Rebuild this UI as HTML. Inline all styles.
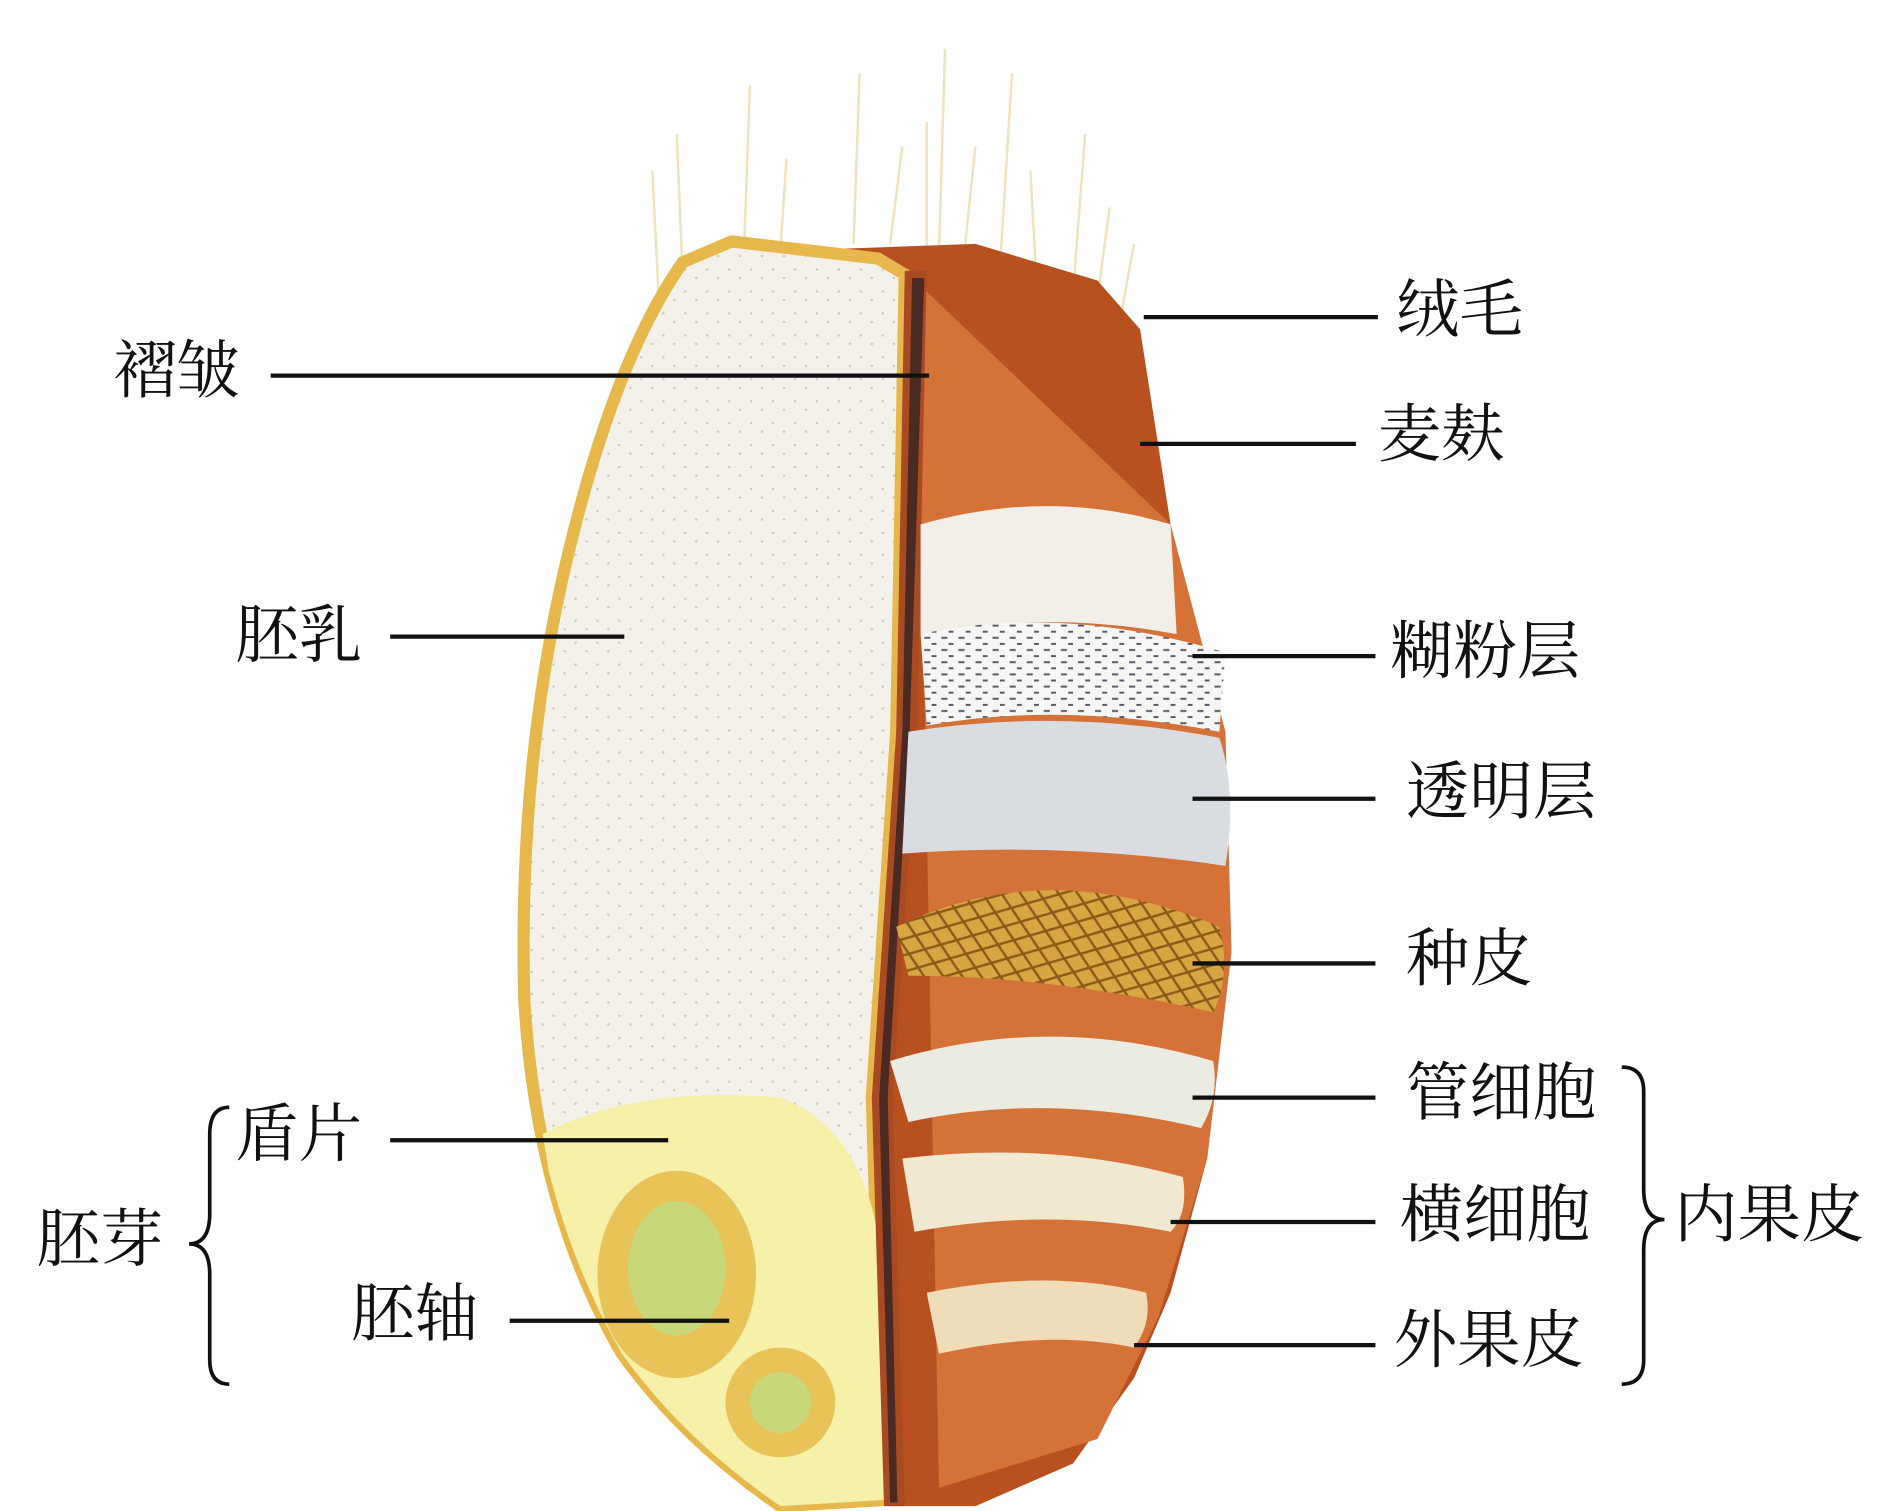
<!DOCTYPE html>
<html><head><meta charset="utf-8"><style>
html,body{margin:0;padding:0;background:#fff;}
svg{display:block;}
text{font-family:"Liberation Serif","Noto Serif CJK SC","Noto Sans CJK SC",serif;font-size:52px;fill:#111;dominant-baseline:middle;}
</style></head><body>
<svg width="1890" height="1511" viewBox="0 0 1550 1239" preserveAspectRatio="none">
<defs>
<pattern id="mesh" width="22" height="16" patternUnits="userSpaceOnUse" patternTransform="rotate(20)">
<rect width="22" height="16" fill="#d8a640"/><path d="M0 0L22 16M22 0L0 16" stroke="#8a5a18" stroke-width="2"/></pattern>
<pattern id="dots" width="14" height="10" patternUnits="userSpaceOnUse">
<rect width="14" height="10" fill="#f6f6f4"/><path d="M2 3h5M8 8h4" stroke="#555a66" stroke-width="1.6"/></pattern>
<pattern id="speck" width="18" height="18" patternUnits="userSpaceOnUse">
<rect width="18" height="18" fill="#f3f1ea"/><circle cx="4" cy="5" r="1" fill="#c9c6bc"/><circle cx="13" cy="12" r="1" fill="#c9c6bc"/></pattern>
</defs>
<g stroke="#efe2bc" stroke-width="2" fill="none">
<path d="M540 240L535 140M560 230L555 110M610 210L615 70M640 205L645 130M700 200L705 60M730 200L740 120M770 210L775 40M790 215L800 120M820 220L830 60M850 230L845 140M880 240L890 110M900 245L910 170M920 255L930 200M760 205L760 100"/>
</g>
<path d="M660 205 L800 200 L900 230 L935 270 L960 430 L1000 600 L1010 780 L990 950 L960 1060 L930 1130 L880 1200 L800 1235 L730 1235 L735 220 Z" fill="#b8501f"/>
<path d="M740 220 L960 430 L1005 600 L1010 780 L990 950 L950 1080 L900 1180 L770 1220 L755 400 Z" fill="#d57238"/>
<path d="M600 198 L720 212 L742 225 L735 600 L715 900 L725 1230 L640 1235 Q560 1180 510 1110 Q440 990 430 820 Q425 640 460 480 Q500 300 560 215 Z" fill="url(#speck)" stroke="#e6b84c" stroke-width="10"/>
<path d="M445 930 Q520 890 640 900 Q720 930 725 1060 L725 1230 L640 1235 Q560 1180 510 1110 Q470 1040 450 960 Z" fill="#f6f0a8"/>
<ellipse cx="555" cy="1045" rx="65" ry="85" fill="#e8c458"/>
<ellipse cx="555" cy="1040" rx="40" ry="55" fill="#c8d878"/>
<ellipse cx="640" cy="1150" rx="45" ry="45" fill="#e8c458"/>
<ellipse cx="640" cy="1150" rx="25" ry="25" fill="#c8d878"/>
<path d="M742 222 L760 222 L752 600 L732 900 L742 1235 L725 1235 L715 900 L735 600 Z" fill="#a84a22"/>
<path d="M748 228 L758 228 L746 600 L728 900 L736 1232 L730 1232 L721 900 L740 600 Z" fill="#4a2a22"/>
<path d="M755 430 Q860 400 960 430 L965 520 Q860 500 755 520 Z" fill="#f1efe8"/>
<path d="M755 520 Q870 495 1005 535 L1000 600 Q870 575 760 595 Z" fill="url(#dots)"/>
<path d="M745 600 Q870 580 1000 605 Q1015 650 1005 710 Q870 690 740 700 Z" fill="#d9dde2"/>
<path d="M735 760 Q860 700 1000 760 Q1010 800 995 830 Q860 800 745 800 Z" fill="url(#mesh)"/>
<path d="M730 870 Q860 830 995 870 Q1000 900 985 925 Q860 895 745 920 Z" fill="#ecebe2"/>
<path d="M740 950 Q860 935 970 965 Q975 995 960 1010 Q860 990 750 1010 Z" fill="#f1e8d2"/>
<path d="M760 1060 Q860 1040 940 1060 Q945 1085 930 1105 Q860 1090 770 1110 Z" fill="#efdcb8"/>
<g stroke="#111" stroke-width="3.5">
<line x1="222" y1="308" x2="762" y2="308"/>
<line x1="938" y1="260" x2="1130" y2="260"/>
<line x1="935" y1="364" x2="1112" y2="364"/>
<line x1="320" y1="522" x2="512" y2="522"/>
<line x1="978" y1="538" x2="1128" y2="538"/>
<line x1="978" y1="655" x2="1128" y2="655"/>
<line x1="978" y1="790" x2="1128" y2="790"/>
<line x1="978" y1="900" x2="1128" y2="900"/>
<line x1="960" y1="1002" x2="1128" y2="1002"/>
<line x1="930" y1="1103" x2="1128" y2="1103"/>
<line x1="320" y1="935" x2="548" y2="935"/>
<line x1="418" y1="1083" x2="598" y2="1083"/>
</g>
<g stroke="#111" stroke-width="3" fill="none">
<path d="M188 908 Q172 908 172 930 L172 995 Q172 1020 155 1020 Q172 1020 172 1045 L172 1115 Q172 1135 188 1135"/>
<path d="M1330 875 Q1348 875 1348 895 L1348 975 Q1348 1000 1365 1000 Q1348 1000 1348 1025 L1348 1115 Q1348 1135 1330 1135"/>
</g>
<text x="93" y="310">褶皱</text>
<text x="1145" y="260">绒毛</text>
<text x="1130" y="362">麦麸</text>
<text x="193" y="527">胚乳</text>
<text x="1140" y="540">糊粉层</text>
<text x="1153" y="655">透明层</text>
<text x="1153" y="792">种皮</text>
<text x="1153" y="902">管细胞</text>
<text x="1148" y="1002">横细胞</text>
<text x="1143" y="1105">外果皮</text>
<text x="1373" y="1002">内果皮</text>
<text x="193" y="936">盾片</text>
<text x="288" y="1083">胚轴</text>
<text x="30" y="1022">胚芽</text>
</svg>
</body></html>
